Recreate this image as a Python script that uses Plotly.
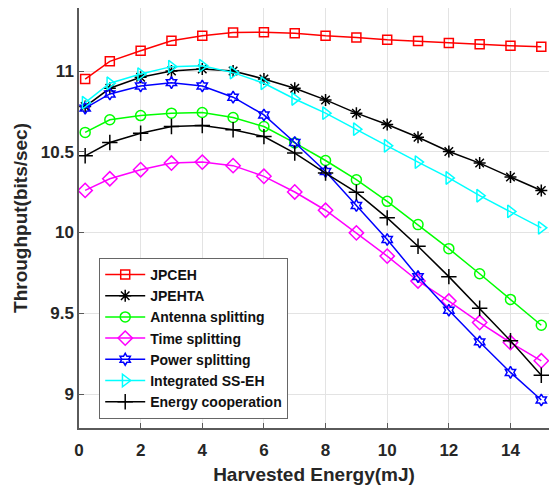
import plotly.graph_objects as go

# Harvested energy (mJ) sample points
energy = [0.2, 1, 2, 3, 4, 5, 6, 7, 8, 9, 10, 11, 12, 13, 14, 15]

# Throughput (bits/sec) for each scheme
jpceh = [10.95, 11.06, 11.125, 11.187, 11.218, 11.239, 11.24, 11.233, 11.218, 11.208,
         11.193, 11.185, 11.173, 11.165, 11.156, 11.15]
jpehta = [10.78, 10.893, 10.961, 11.0, 11.012, 11.0, 10.951, 10.893, 10.821, 10.739,
          10.669, 10.59, 10.502, 10.43, 10.344, 10.26]
antenna = [10.62, 10.698, 10.724, 10.739, 10.743, 10.712, 10.656, 10.555, 10.446, 10.327,
           10.193, 10.049, 9.9, 9.745, 9.586, 9.426]
time_split = [10.261, 10.333, 10.389, 10.43, 10.436, 10.414, 10.348, 10.251, 10.138, 9.998,
              9.854, 9.7, 9.576, 9.443, 9.319, 9.206]
power_split = [10.77, 10.858, 10.907, 10.928, 10.907, 10.838, 10.728, 10.557, 10.378, 10.167,
               9.957, 9.727, 9.519, 9.323, 9.134, 8.963]
integrated = [10.804, 10.924, 10.981, 11.027, 11.033, 10.99, 10.924, 10.827, 10.739, 10.64,
              10.537, 10.436, 10.338, 10.228, 10.131, 10.029]
energy_coop = [10.475, 10.557, 10.615, 10.656, 10.662, 10.636, 10.594, 10.492, 10.368, 10.249,
               10.091, 9.915, 9.727, 9.531, 9.33, 9.117]

x_ticks = [0, 2, 4, 6, 8, 10, 12, 14]
y_ticks = [9, 9.5, 10, 10.5, 11]
y_tick_labels = ["9", "9.5", "10", "10.5", "11"]

series = [
    ("JPCEH", jpceh, "#ff0000", "square-open", 9),
    ("JPEHTA", jpehta, "#000000", "asterisk-open", 10),
    ("Antenna splitting", antenna, "#00ff00", "circle-open", 10),
    ("Time splitting", time_split, "#ff00ff", "diamond-open", 11),
    ("Power splitting", power_split, "#0000ff", "hexagram-open", 9),
    ("Integrated SS-EH", integrated, "#00ffff", "triangle-right-open", 11),
    ("Energy cooperation", energy_coop, "#000000", "cross-thin-open", 11),
]

fig = go.Figure()
for name, vals, color, symbol, size in series:
    fig.add_trace(go.Scatter(
        x=energy, y=vals, name=name, mode="lines+markers",
        line=dict(color=color, width=1.5),
        marker=dict(symbol=symbol, size=size, color=color,
                    line=dict(color=color, width=1.5)),
    ))

FONT = "Liberation Sans, Arial, sans-serif"
axis_font = dict(family=FONT, size=17, color="#262626", weight="bold")
title_font = dict(family=FONT, size=19, color="#262626")

fig.update_layout(
    width=551, height=485,
    margin=dict(l=79, r=2, t=8, b=57),
    paper_bgcolor="white", plot_bgcolor="white",
    font=dict(family=FONT, color="#262626"),
    legend=dict(
        x=0.043, y=0.405, xanchor="left", yanchor="top",
        bgcolor="white", bordercolor="#666666", borderwidth=1,
        itemwidth=40, entrywidth=160,
        font=dict(family=FONT, size=14, color="#111111", weight="bold"),
    ),
    xaxis=dict(
        range=[0, 15.25], tickvals=x_ticks, automargin=False,
        showgrid=True, gridcolor="#e3e3e3", gridwidth=1,
        showline=True, linecolor="#5a5a5a", linewidth=1.5,
        ticks="inside", ticklen=5, tickcolor="#5a5a5a",
        tickfont=axis_font, ticklabelstandoff=6,
        title=dict(text="<b>Harvested Energy(mJ)</b>", font=title_font, standoff=12),
        zeroline=False,
    ),
    yaxis=dict(
        range=[8.79, 11.39], tickvals=y_ticks, ticktext=y_tick_labels, automargin=False,
        showgrid=True, gridcolor="#e3e3e3", gridwidth=1,
        showline=True, linecolor="#5a5a5a", linewidth=1.5,
        ticks="inside", ticklen=5, tickcolor="#5a5a5a",
        tickfont=axis_font,
        title=dict(text="<b>Throughput(bits/sec)</b>", font=title_font, standoff=8),
        zeroline=False,
    ),
)

fig.write_html("out.html")
